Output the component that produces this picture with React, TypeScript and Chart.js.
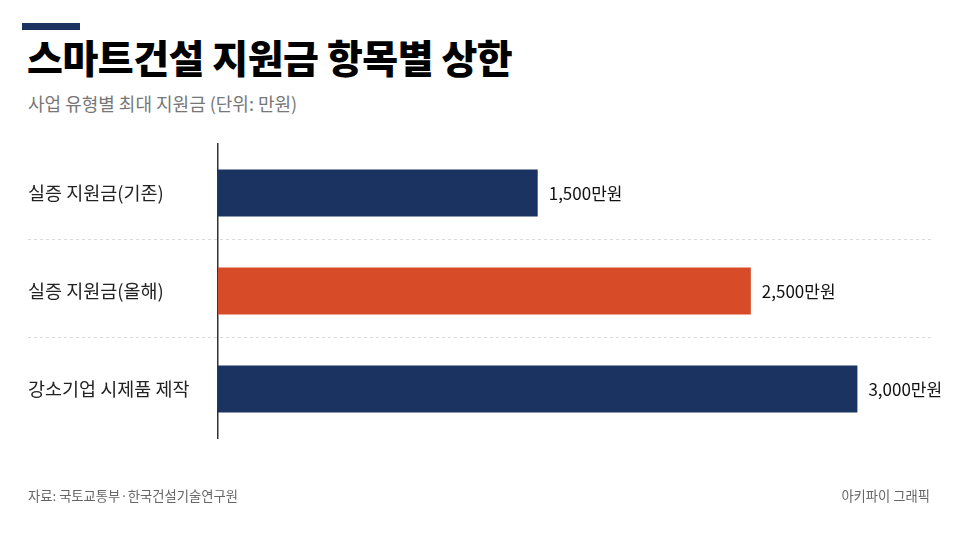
import { useEffect, useRef } from "react";
import { Chart, registerables } from "chart.js";

Chart.register(...registerables);

const categories = ["실증 지원금(기존)", "실증 지원금(올해)", "강소기업 시제품 제작"];
const amounts = [1500, 2500, 3000];
const barColors = ["#1b3360", "#d84b29", "#1b3360"];
const valueSuffix = "만원";

const FONT = '"Noto Sans CJK KR", "Noto Sans", sans-serif';

// dashed separators between rows, plus value labels at the bar ends
const rowDecor = {
  id: "rowDecor",
  beforeDatasetsDraw(chart: any) {
    const { ctx } = chart;
    const y = chart.scales.y;
    ctx.save();
    ctx.strokeStyle = "#dadada";
    ctx.lineWidth = 1;
    ctx.setLineDash([3, 3]);
    for (let i = 0; i < categories.length - 1; i++) {
      const py = Math.round((y.getPixelForValue(i) + y.getPixelForValue(i + 1)) / 2) - 2.5;
      ctx.beginPath();
      ctx.moveTo(28, py);
      ctx.lineTo(932, py);
      ctx.stroke();
    }
    ctx.restore();
  },
  afterDatasetsDraw(chart: any) {
    const { ctx } = chart;
    const meta = chart.getDatasetMeta(0);
    ctx.save();
    ctx.font = `400 17px ${FONT}`;
    ctx.fillStyle = "#111";
    ctx.textBaseline = "middle";
    meta.data.forEach((bar: any, i: number) => {
      ctx.fillText(amounts[i].toLocaleString("en-US") + valueSuffix, bar.x + 11, bar.y + 1);
    });
    ctx.restore();
  },
};

export default function App() {
  const canvasRef = useRef<HTMLCanvasElement>(null);

  useEffect(() => {
    if (!canvasRef.current) return;
    const chart = new Chart(canvasRef.current, {
      type: "bar",
      data: {
        labels: categories,
        datasets: [
          {
            data: amounts,
            backgroundColor: barColors,
            borderWidth: 0,
            barPercentage: 0.48,
            categoryPercentage: 1,
          },
        ],
      },
      options: {
        indexAxis: "y",
        animation: false,
        responsive: false,
        layout: { padding: { top: 144, bottom: 102, left: 28, right: 28 } },
        plugins: { legend: { display: false }, tooltip: { enabled: false } },
        scales: {
          x: { display: false, min: 0, max: 3350 },
          y: {
            grid: { display: false },
            border: { display: true, color: "#333", width: 1.5 },
            afterFit: (scale: any) => {
              scale.width = 190;
            },
            ticks: {
              crossAlign: "far",
              padding: 0,
              color: "#222",
              font: { family: FONT, size: 18.5 },
            },
          },
        },
      },
      plugins: [rowDecor],
    });
    return () => chart.destroy();
  }, []);

  return (
    <div
      style={{
        position: "absolute",
        left: 0,
        top: 0,
        width: 960,
        height: 540,
        background: "#fff",
        fontFamily: FONT,
        overflow: "hidden",
      }}
    >
      <div style={{ position: "absolute", left: 22, top: 23, width: 58, height: 7, background: "#1b3360" }} />
      <div
        style={{
          position: "absolute",
          left: 27,
          top: 37,
          fontSize: 39,
          fontWeight: 900,
          lineHeight: 1,
          letterSpacing: -0.5,
          color: "#000",
        }}
      >
        스마트건설 지원금 항목별 상한
      </div>
      <div style={{ position: "absolute", left: 28, top: 94, fontSize: 18, lineHeight: 1, color: "#777" }}>
        사업 유형별 최대 지원금 (단위: 만원)
      </div>
      <canvas ref={canvasRef} width={960} height={540} style={{ position: "absolute", left: 0, top: 0 }} />
      <div style={{ position: "absolute", left: 28, top: 489, fontSize: 13.3, lineHeight: 1, color: "#666" }}>
        자료: 국토교통부·한국건설기술연구원
      </div>
      <div style={{ position: "absolute", right: 30, top: 489, fontSize: 13.3, lineHeight: 1, color: "#666" }}>
        아키파이 그래픽
      </div>
    </div>
  );
}
